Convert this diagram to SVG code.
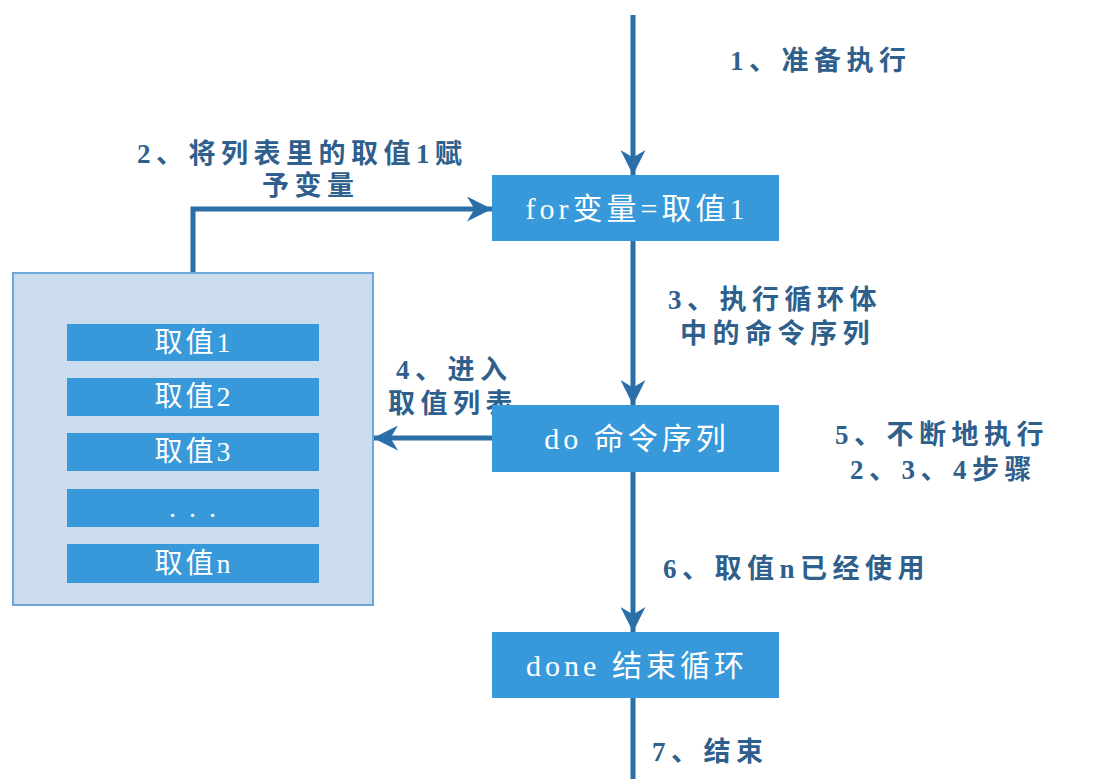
<svg xmlns="http://www.w3.org/2000/svg" width="1107" height="779" viewBox="0 0 1107 779">
<defs>
<style>
.box{fill:#3899da;}
.item{fill:#3899da;}
.bt{font-family:"Liberation Serif","Noto Sans CJK SC",serif;font-size:30px;fill:#ffffff;text-anchor:middle;letter-spacing:4px;}
.it{font-family:"Liberation Serif","Noto Sans CJK SC",serif;font-size:28px;fill:#ffffff;text-anchor:middle;letter-spacing:3px;}
.lb{font-family:"Liberation Serif","Noto Sans CJK SC",serif;font-size:27px;font-weight:bold;fill:#2f5f8c;letter-spacing:5.5px;}
.ln{fill:none;stroke:#2a6fa8;stroke-width:5;}
</style>
<marker id="ah" viewBox="0 0 10 10" refX="10" refY="5" markerWidth="5" markerHeight="5" orient="auto" markerUnits="strokeWidth">
<path d="M0,0 L10,5 L0,10 L3,5 Z" fill="#2a6fa8"/>
</marker>
</defs>
<rect width="1107" height="779" fill="#ffffff"/>
<g id="connectors">
<line class="ln" x1="633" y1="15" x2="633" y2="175" marker-end="url(#ah)"/>
<line class="ln" x1="633" y1="241" x2="633" y2="405" marker-end="url(#ah)"/>
<line class="ln" x1="633" y1="472" x2="633" y2="632" marker-end="url(#ah)"/>
<line class="ln" x1="633" y1="698" x2="633" y2="779"/>
<polyline class="ln" points="193,273 193,209 492,209" marker-end="url(#ah)"/>
<line class="ln" x1="492" y1="438" x2="373" y2="438" marker-end="url(#ah)"/>
</g>
<g id="labels">
<text class="lb" x="730" y="70">1、准备执行</text>
<text class="lb" x="137" y="163">2、将列表里的取值1赋</text>
<text class="lb" x="262" y="195">予变量</text>
<text class="lb" x="668" y="309">3、执行循环体</text>
<text class="lb" x="680" y="343">中的命令序列</text>
<text class="lb" x="396" y="379">4、进入</text>
<text class="lb" x="388" y="413">取值列表</text>
<text class="lb" x="835" y="444">5、不断地执行</text>
<text class="lb" x="850" y="479">2、3、4步骤</text>
<text class="lb" x="663" y="578">6、取值n已经使用</text>
<text class="lb" x="652" y="761">7、结束</text>
</g>
<g id="node-for">
<rect class="box" x="492" y="175" width="287" height="66"/>
<text class="bt" x="637" y="219">for变量=取值1</text>
</g>
<g id="node-do">
<rect class="box" x="492" y="405" width="287" height="67"/>
<text class="bt" x="637" y="449">do  命令序列</text>
</g>
<g id="node-done">
<rect class="box" x="492" y="632" width="287" height="66"/>
<text class="bt" x="637" y="676">done  结束循环</text>
</g>
<g id="node-list">
<rect x="13" y="273" width="360" height="332" fill="#ccdcef" stroke="#6fa6d8" stroke-width="2"/>
<rect class="item" x="67" y="324" width="252" height="37"/>
<text class="it" x="194" y="352">取值1</text>
<rect class="item" x="67" y="378" width="252" height="38"/>
<text class="it" x="194" y="406">取值2</text>
<rect class="item" x="67" y="433" width="252" height="38"/>
<text class="it" x="194" y="461">取值3</text>
<rect class="item" x="67" y="489" width="252" height="38"/>
<text class="it" x="194" y="517">. . .</text>
<rect class="item" x="67" y="544" width="252" height="39"/>
<text class="it" x="194" y="573">取值n</text>
</g>
</svg>
